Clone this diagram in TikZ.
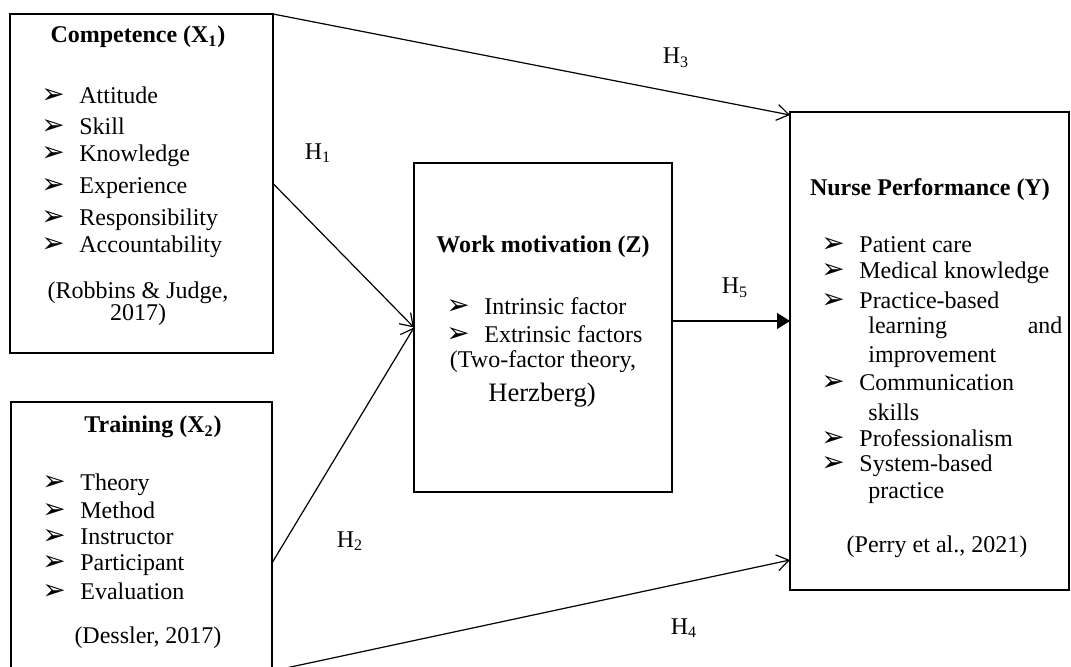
\documentclass[tikz,border=0pt]{standalone}
\usepackage{fontspec}
\setmainfont{Liberation Serif}
\newfontfamily\dingfont{DejaVu Sans}
\usetikzlibrary{positioning, arrows.meta, calc}

\newcommand{\arr}{\makebox[19pt][l]{\raisebox{0pt}[0pt][0pt]{\dingfont\fontsize{14}{14}\selectfont ➢}}}

\begin{document}
\begin{tikzpicture}[x=0.5pt, y=-0.5pt,
	box/.style={draw, line width=0.9pt, anchor=north west, inner sep=0pt, outer sep=0pt},
	txt/.style={anchor=west, inner sep=0pt, font=\fontsize{12}{14}\selectfont},
	mid/.style={inner sep=0pt, font=\fontsize{12}{14}\selectfont},
	hd/.style={inner sep=0pt, font=\bfseries\fontsize{12}{14}\selectfont},
	hyp/.style={line width=0.6pt, -{Straight Barb[length=6pt, width=8pt]}}]
			\useasboundingbox (0,0) rectangle (1071,667);
			% boxes
			\node[box, minimum width=131.5pt, minimum height=169.5pt] (comp) at (10,14) {};
			\node[box, minimum width=130.5pt, minimum height=161pt] (train) at (11,402) {};
			\node[box, minimum width=129pt, minimum height=164.5pt] (motiv) at (414,163) {};
			\node[box, minimum width=139.5pt, minimum height=239pt] (perf) at (790,112) {};
			% competence
			\node[hd] (compT) at (138,37) {Competence (X\textsubscript{1})};
			\node[txt] (c1) at (41,95) {\arr Attitude};
			\node[txt] (c2) at (41,126) {\arr Skill};
			\node[txt] (c3) at (41,156) {\arr Knowledge};
			\node[txt] (c4) at (41,188) {\arr Experience};
			\node[txt] (c5) at (41,220) {\arr Responsibility};
			\node[txt] (c6) at (41,247) {\arr Accountability};
			\node[mid] (cRef) at (138,293) {(Robbins \& Judge,};
			\node[mid] (cRef2) at (138,315) {2017)};
			% training
			\node[hd] (trainT) at (153,427) {Training (X\textsubscript{2})};
			\node[txt] (t1) at (42,485) {\arr Theory};
			\node[txt] (t2) at (42,510) {\arr Method};
			\node[txt] (t3) at (42,537) {\arr Instructor};
			\node[txt] (t4) at (42,565) {\arr Participant};
			\node[txt] (t5) at (42,591) {\arr Evaluation};
			\node[mid] (tRef) at (148,638) {(Dessler, 2017)};
			% work motivation
			\node[hd] (motivT) at (543,247) {Work motivation (Z)};
			\node[txt] (m1) at (446,306) {\arr Intrinsic factor};
			\node[txt] (m2) at (446,334) {\arr Extrinsic factors};
			\node[mid] (mRef) at (543,362) {(Two-factor theory,};
			\node[mid, font=\fontsize{13.3}{15}\selectfont] (mRef2) at (542,395) {Herzberg)};
			% nurse performance
			\node[hd] (perfT) at (930,190) {Nurse Performance (Y)};
			\node[txt] (p1) at (821,245) {\arr Patient care};
			\node[txt] (p2) at (821,273) {\arr Medical knowledge};
			\node[txt] (p3) at (821,300) {\arr Practice-based};
			\node[txt] (p3b) at (868,328) {\makebox[97pt]{learning\hfill and}};
			\node[txt] (p3c) at (868,357) {improvement};
			\node[txt] (p4) at (821,383) {\arr Communication};
			\node[txt] (p4b) at (868,412) {skills};
			\node[txt] (p5) at (821,438) {\arr Professionalism};
			\node[txt] (p6) at (821,466) {\arr System-based};
			\node[txt] (p6b) at (868,493) {practice};
			\node[mid] (pRef) at (937,547) {(Perry et al., 2021)};
			% hypotheses
			\coordinate (h4) at (272,671);
			\coordinate (h5) at (672,321);
			\draw[hyp] (comp.north east) -- ($(perf.north west)+(0,3)$);
			\draw[hyp] (comp.east) -- (motiv.west);
			\draw[hyp] (train.east) -- (motiv.west);
			\draw[hyp] (h4) -- ($(perf.south west)+(0,-30)$);
			\draw[line width=0.6pt, -{Triangle[length=6.5pt, width=8pt]}] (h5) -- (h5 -| perf.west);
			\node[mid] (H1) at (318,153) {H\textsubscript{1}};
			\node[mid] (H2) at (350,541) {H\textsubscript{2}};
			\node[mid] (H3) at (676,58) {H\textsubscript{3}};
			\node[mid] (H4) at (684,628) {H\textsubscript{4}};
			\node[mid] (H5) at (735,288) {H\textsubscript{5}};
		\end{tikzpicture}
\end{document}
